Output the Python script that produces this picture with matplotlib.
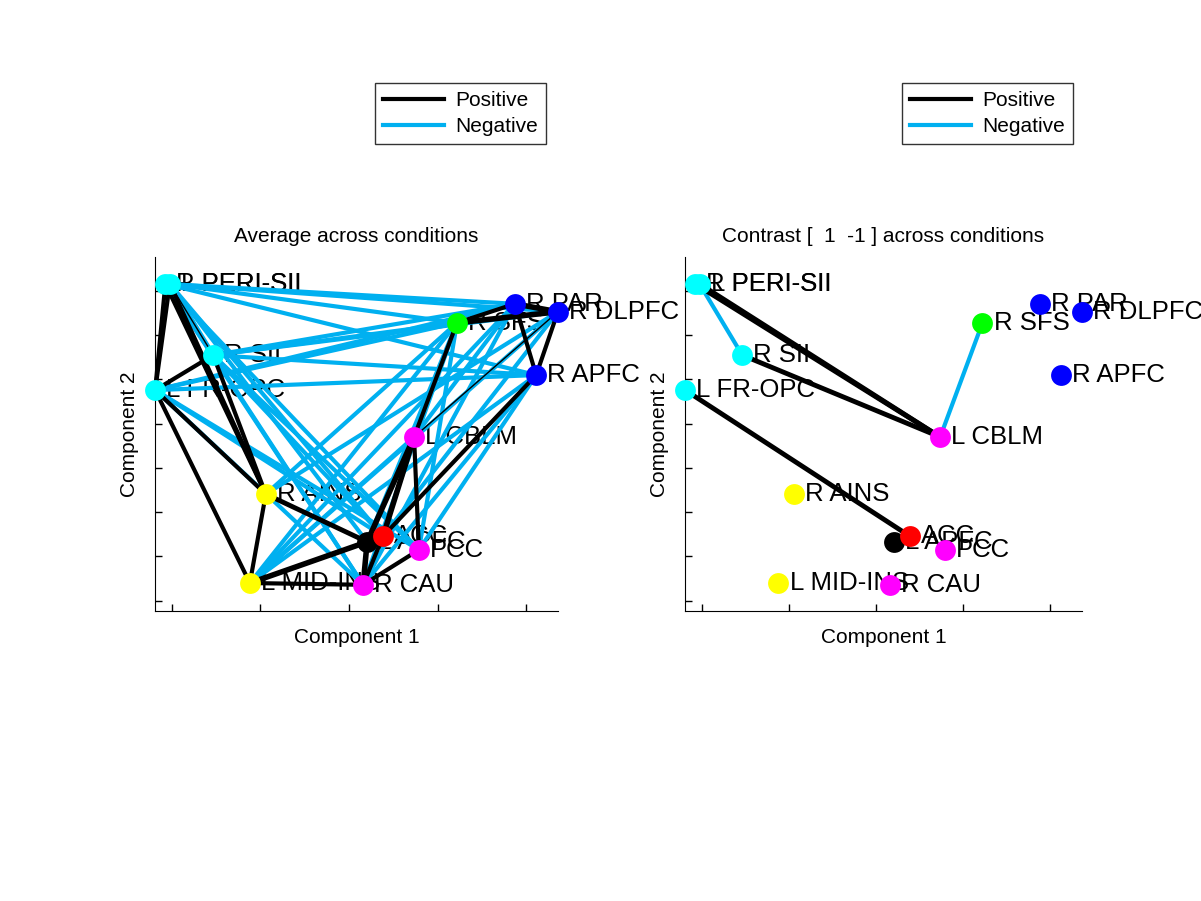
import matplotlib
matplotlib.use("Agg")
import matplotlib.pyplot as plt
from matplotlib.lines import Line2D

plt.rcParams['font.family'] = ['Liberation Sans', 'DejaVu Sans']

# node layout (component 1, component 2)
names = ['R PERI-SII', 'L PERI-SII', 'R SII', 'L FR-OPC', 'R AINS', 'L MID-INS',
         'R CAU', 'L APFC', 'ACC', 'PCC', 'L CBLM', 'R SFS', 'R PAR', 'R DLPFC', 'R APFC']
comp1 = [-0.415, -0.405, -0.307, -0.438, -0.188, -0.224,
         0.032, 0.041, 0.077, 0.158, 0.147, 0.244, 0.375, 0.472, 0.423]
comp2 = [0.416, 0.416, 0.255, 0.176, -0.059, -0.260,
         -0.264, -0.167, -0.154, -0.185, 0.070, 0.328, 0.371, 0.353, 0.210]
colors = ['#00FFFF', '#00FFFF', '#00FFFF', '#00FFFF', '#FFFF00', '#FFFF00',
          '#FF00FF', '#000000', '#FF0000', '#FF00FF', '#FF00FF', '#00FF00',
          '#0000FF', '#0000FF', '#0000FF']

# edges: (from, to, strength)
avg_pos = [('R PERI-SII', 'L FR-OPC', 3), ('L PERI-SII', 'L FR-OPC', 3),
           ('R PERI-SII', 'R AINS', 3), ('L PERI-SII', 'R AINS', 3),
           ('L PERI-SII', 'R SII', 1), ('L FR-OPC', 'R SII', 3),
           ('R SII', 'R AINS', 3), ('L FR-OPC', 'R AINS', 3),
           ('L FR-OPC', 'L MID-INS', 3), ('R AINS', 'L MID-INS', 3),
           ('R AINS', 'L APFC', 3.5), ('L MID-INS', 'L APFC', 4),
           ('L MID-INS', 'R CAU', 3), ('R CAU', 'L APFC', 4),
           ('R CAU', 'ACC', 3), ('R CAU', 'PCC', 3),
           ('L CBLM', 'ACC', 4), ('L CBLM', 'L APFC', 4), ('L CBLM', 'PCC', 3),
           ('R SFS', 'L CBLM', 3), ('R SFS', 'R PAR', 3), ('R SFS', 'R DLPFC', 4),
           ('R PAR', 'R DLPFC', 4), ('R PAR', 'R APFC', 3), ('R DLPFC', 'R APFC', 3),
           ('R APFC', 'ACC', 3), ('R DLPFC', 'L CBLM', 1)]
avg_neg = [('R PERI-SII', 'R PAR', 3), ('L PERI-SII', 'R DLPFC', 3),
           ('R PERI-SII', 'R APFC', 3), ('L PERI-SII', 'R SFS', 3),
           ('R SII', 'R SFS', 3), ('R SII', 'R PAR', 3), ('R SII', 'R DLPFC', 3),
           ('R SII', 'R APFC', 3), ('L FR-OPC', 'R SFS', 3), ('L FR-OPC', 'R PAR', 3),
           ('L FR-OPC', 'R APFC', 3), ('R PERI-SII', 'R SII', 3.5),
           ('L PERI-SII', 'R SII', 3.5), ('R PERI-SII', 'R CAU', 3),
           ('L PERI-SII', 'ACC', 3), ('R PERI-SII', 'PCC', 3),
           ('L PERI-SII', 'L APFC', 3), ('R SII', 'R CAU', 3), ('R SII', 'PCC', 3),
           ('R SII', 'ACC', 3), ('L FR-OPC', 'ACC', 3), ('L FR-OPC', 'PCC', 3),
           ('L FR-OPC', 'R CAU', 3), ('L MID-INS', 'R SFS', 3),
           ('L MID-INS', 'R PAR', 3), ('L MID-INS', 'R DLPFC', 3),
           ('L MID-INS', 'R APFC', 3), ('L MID-INS', 'L CBLM', 3),
           ('R AINS', 'R SFS', 3), ('R AINS', 'R DLPFC', 3),
           ('R CAU', 'R SFS', 3), ('R CAU', 'R PAR', 3), ('R CAU', 'R APFC', 3),
           ('L APFC', 'R SFS', 3), ('ACC', 'R DLPFC', 3), ('PCC', 'R APFC', 3),
           ('PCC', 'R SFS', 3), ('L CBLM', 'R PAR', 3)]
con_pos = [('R PERI-SII', 'L CBLM', 3.5), ('L PERI-SII', 'L CBLM', 3.5),
           ('R SII', 'L CBLM', 3.5), ('L FR-OPC', 'ACC', 3.5)]
con_neg = [('L PERI-SII', 'R SII', 3), ('R SFS', 'L CBLM', 3)]

titles = ['Average across conditions', 'Contrast [  1  -1 ] across conditions']
xticks = [-0.4, -0.2, 0, 0.2, 0.4]
yticks = [-0.3, -0.2, -0.1, 0, 0.1, 0.2, 0.3, 0.4]

POS_COL = 'black'
NEG_COL = '#00B0F0'
idx = {n: i for i, n in enumerate(names)}

fig = plt.figure(figsize=(12.01, 9.01), dpi=100)
W, H = 1201, 901
panels = [(155, 403, 375, avg_pos, avg_neg), (685, 397, 902, con_pos, con_neg)]

for k, (left, width, legx, pos, neg) in enumerate(panels):
    ax = fig.add_axes([left / W, (H - 611) / H, width / W, 354 / H])
    ax.set_xlim(-0.4384, 0.4723)
    ax.set_ylim(-0.3232, 0.4768)
    for s in ['top', 'right']:
        ax.spines[s].set_visible(False)
    ax.set_xticks(xticks)
    ax.set_yticks(yticks)
    ax.set_xticklabels([])
    ax.set_yticklabels([])
    ax.tick_params(direction='in', length=5, width=1)

    for i, n in enumerate(names):
        ax.annotate(n, (comp1[i], comp2[i]), xytext=(8, 0), textcoords='offset points',
                    fontsize=18.5, va='center', ha='left', zorder=1,
                    annotation_clip=False)
    # negatives drawn first so positive lines sit on top
    for (a, b, w) in neg:
        ax.plot([comp1[idx[a]], comp1[idx[b]]], [comp2[idx[a]], comp2[idx[b]]],
                color=NEG_COL, lw=w, zorder=2, clip_on=False, solid_capstyle='butt')
    for (a, b, w) in pos:
        ax.plot([comp1[idx[a]], comp1[idx[b]]], [comp2[idx[a]], comp2[idx[b]]],
                color=POS_COL, lw=w, zorder=3, clip_on=False, solid_capstyle='butt')
    for i in range(len(names)):
        ax.plot(comp1[i], comp2[i], 'o', ms=15, color=colors[i], mec='none',
                zorder=4, clip_on=False)

    ax.set_title(titles[k], fontsize=15, pad=11)
    ax.set_xlabel('Component 1', fontsize=15, labelpad=9)
    ax.set_ylabel('Component 2', fontsize=15, labelpad=8)

    handles = [Line2D([], [], color=POS_COL, lw=3), Line2D([], [], color=NEG_COL, lw=3)]
    leg = ax.legend(handles, ['Positive', 'Negative'], loc='upper left',
                    bbox_to_anchor=(legx / W, 1 - 83 / H), bbox_transform=fig.transFigure,
                    fontsize=15, frameon=True, fancybox=False, handlelength=2.9,
                    handletextpad=0.55, borderpad=0.4, labelspacing=0.32,
                    borderaxespad=0)
    leg.get_frame().set_edgecolor('black')
    leg.get_frame().set_linewidth(1)

fig.savefig('out.png', dpi=100)
